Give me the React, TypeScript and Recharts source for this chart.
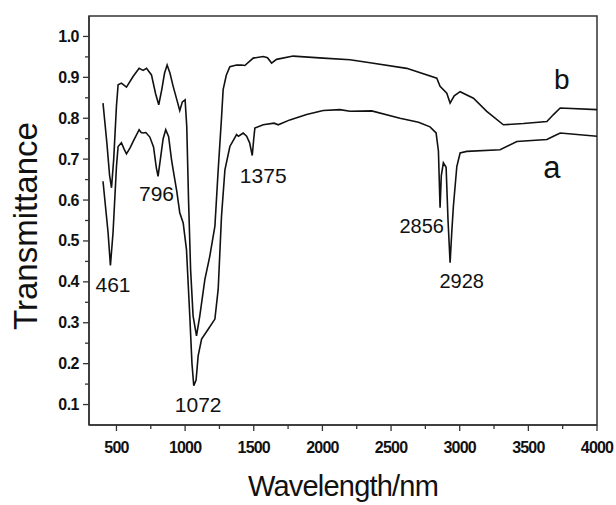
import React from "react"
import { ComposedChart, Line, Scatter, XAxis, YAxis, ReferenceArea } from "recharts"

// Spectrum a (lower curve)
const waveA = [
  402, 439, 456, 475, 500, 512, 536, 555, 573, 600, 621, 665, 680, 694, 714, 743, 770, 790, 803, 820, 840, 859, 880,
  901, 913, 940, 961, 986, 1010, 1034, 1050, 1063, 1080, 1095, 1120, 1168, 1217, 1241, 1265, 1290, 1326, 1375, 1389,
  1423, 1448, 1470, 1489, 1500, 1508, 1569, 1648, 1678, 1763, 1885, 2006, 2128, 2201, 2359, 2565, 2700, 2784, 2828,
  2845, 2857, 2866, 2881, 2901, 2915, 2930, 2942, 2954, 2979, 3003, 3051, 3294, 3416, 3635, 3683, 3732, 4000,
]
const transA = [
  0.646, 0.52, 0.44, 0.52, 0.682, 0.731, 0.74, 0.725, 0.713, 0.728, 0.743, 0.772, 0.765, 0.764, 0.765, 0.754, 0.73,
  0.68, 0.658, 0.7, 0.75, 0.772, 0.755, 0.699, 0.674, 0.62, 0.569, 0.544, 0.479, 0.317, 0.2, 0.146, 0.16, 0.219, 0.26,
  0.284, 0.309, 0.382, 0.56, 0.674, 0.731, 0.76, 0.756, 0.764, 0.756, 0.74, 0.709, 0.75, 0.776, 0.784, 0.788, 0.784,
  0.796, 0.809, 0.819, 0.821, 0.817, 0.818, 0.8, 0.79, 0.779, 0.764, 0.72, 0.581, 0.66, 0.691, 0.68, 0.55, 0.447, 0.52,
  0.585, 0.682, 0.715, 0.719, 0.723, 0.743, 0.748, 0.756, 0.764, 0.756,
]

// Spectrum b (upper curve)
const waveB = [
  402, 430, 450, 464, 480, 500, 512, 536, 573, 621, 665, 694, 719, 755, 785, 808, 830, 850, 869, 890, 913, 940, 961, 980,
  1000, 1012, 1025, 1040, 1058, 1083, 1107, 1144, 1180, 1217, 1241, 1265, 1277, 1300, 1326, 1375, 1411, 1435, 1496,
  1569, 1600, 1630, 1666, 1787, 2006, 2201, 2359, 2614, 2833, 2857, 2906, 2930, 2960, 3003, 3100, 3197, 3318, 3464, 3635,
  3683, 3732, 4000,
]
const transB = [
  0.837, 0.74, 0.66, 0.63, 0.7, 0.83, 0.882, 0.886, 0.876, 0.902, 0.922, 0.917, 0.922, 0.906, 0.86, 0.833, 0.87, 0.91,
  0.93, 0.91, 0.878, 0.845, 0.819, 0.84, 0.845, 0.78, 0.6, 0.43, 0.317, 0.268, 0.317, 0.406, 0.463, 0.536, 0.674, 0.8,
  0.87, 0.905, 0.926, 0.93, 0.93, 0.929, 0.947, 0.951, 0.948, 0.935, 0.944, 0.952, 0.947, 0.943, 0.935, 0.922, 0.898,
  0.878, 0.861, 0.837, 0.855, 0.865, 0.849, 0.817, 0.784, 0.787, 0.792, 0.809, 0.825, 0.821,
]

// Peak labels and curve names
const noteText = ["461", "796", "1072", "1375", "2856", "2928", "b", "a"]
const noteWave = [475, 792, 1095, 1569, 2723, 3015, 3744, 3671]
const noteTrans = [0.394, 0.616, 0.101, 0.66, 0.536, 0.402, 0.894, 0.679]
const noteSize = [21, 21, 21, 21, 20, 20, 28, 31]

const xTicks = [500, 750, 1000, 1250, 1500, 1750, 2000, 2250, 2500, 2750, 3000, 3250, 3500, 3750, 4000]
const yTicks = [0.1, 0.15, 0.2, 0.25, 0.3, 0.35, 0.4, 0.45, 0.5, 0.55, 0.6, 0.65, 0.7, 0.75, 0.8, 0.85, 0.9, 0.95, 1.0]

const seriesA = waveA.map((w, i) => ({ w, v: transA[i] }))
const seriesB = waveB.map((w, i) => ({ w, v: transB[i] }))
const notes = noteText.map((text, i) => ({ w: noteWave[i], v: noteTrans[i], text, size: noteSize[i] }))

const FONT = "'Liberation Sans', Arial, sans-serif"
const AXIS = "#333"

const XTick = ({ x, y, payload }: any) => {
  const major = payload.value % 500 === 0
  return (
    <g>
      <line x1={x} y1={y} x2={x} y2={y + (major ? 6 : 4)} stroke={AXIS} strokeWidth={1.3} />
      {major && (
        <text x={x} y={y + 28} textAnchor="middle" fontFamily={FONT} fontWeight="bold" fontSize={16} letterSpacing={-0.8} fill="#111">
          {payload.value}
        </text>
      )}
    </g>
  )
}

const YTick = ({ x, y, payload }: any) => {
  const major = Math.round(payload.value * 100) % 10 === 0
  return (
    <g>
      <line x1={x} y1={y} x2={x - (major ? 6 : 4)} y2={y} stroke={AXIS} strokeWidth={1.3} />
      {major && (
        <text x={x - 10} y={y + 5.5} textAnchor="end" fontFamily={FONT} fontWeight="bold" fontSize={16} letterSpacing={-0.5} fill="#111">
          {payload.value.toFixed(1)}
        </text>
      )}
    </g>
  )
}

const NoteShape = (props: any) => {
  const { cx, cy, payload } = props
  return (
    <text x={cx} y={cy} textAnchor="middle" dominantBaseline="central" fontFamily={FONT} fontSize={payload.size} fill="#111">
      {payload.text}
    </text>
  )
}

export default function App() {
  return (
    <div style={{ position: "absolute", left: 0, top: 0, background: "#fff" }}>
      <ComposedChart width={616} height={505} margin={{ top: 16, right: 19, bottom: 0, left: 0 }}>
        <XAxis
          dataKey="w"
          type="number"
          domain={[300, 4000]}
          ticks={xTicks}
          interval={0}
          height={80}
          tickSize={0}
          tickMargin={0}
          tickLine={false}
          tick={<XTick />}
          axisLine={{ stroke: AXIS, strokeWidth: 1.5 }}
          allowDataOverflow
          label={() => (
            <text x={343} y={496} textAnchor="middle" fontFamily={FONT} fontSize={29} letterSpacing={-0.8} fill="#111">
              Wavelength/nm
            </text>
          )}
        />
        <YAxis
          dataKey="v"
          type="number"
          domain={[0.05, 1.05]}
          ticks={yTicks}
          interval={0}
          width={89}
          tickSize={0}
          tickMargin={0}
          tickLine={false}
          tick={<YTick />}
          axisLine={{ stroke: AXIS, strokeWidth: 1.5 }}
          allowDataOverflow
          label={() => (
            <text x={37} y={226} transform="rotate(-90 37 226)" textAnchor="middle" fontFamily={FONT} fontSize={33} fill="#111">
              Transmittance
            </text>
          )}
        />
        {/* plot frame */}
        <ReferenceArea x1={300} x2={4000} y1={0.05} y2={1.05} fill="none" stroke={AXIS} strokeWidth={1.5} ifOverflow="visible" />
        <Line data={seriesA} dataKey="v" type="linear" stroke="#111" strokeWidth={1.6} dot={false} isAnimationActive={false} />
        <Line data={seriesB} dataKey="v" type="linear" stroke="#111" strokeWidth={1.6} dot={false} isAnimationActive={false} />
        <Scatter data={notes} dataKey="v" shape={<NoteShape />} isAnimationActive={false} />
      </ComposedChart>
    </div>
  )
}
